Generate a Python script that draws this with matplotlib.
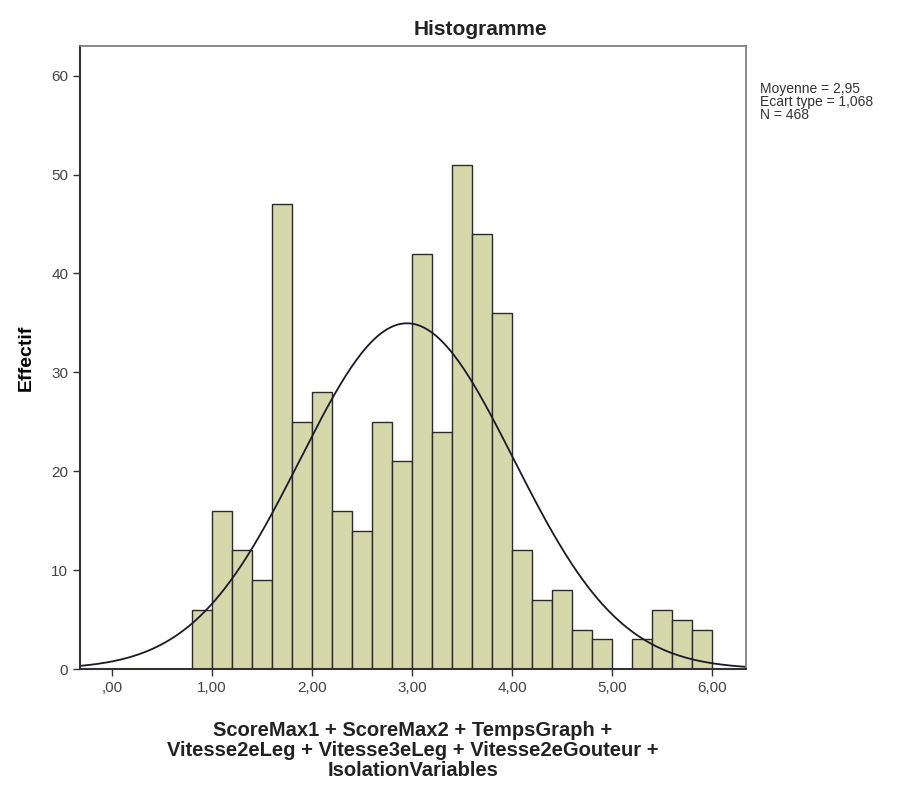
import numpy as np
import matplotlib.pyplot as plt

plt.rcParams['font.family'] = ['Liberation Sans', 'DejaVu Sans']

# histogram data (bins of width 0.2 starting at 0.8)
bin_edges = [0.8, 1.0, 1.2, 1.4, 1.6, 1.8, 2.0, 2.2, 2.4, 2.6, 2.8, 3.0, 3.2, 3.4,
             3.6, 3.8, 4.0, 4.2, 4.4, 4.6, 4.8, 5.0, 5.2, 5.4, 5.6, 5.8, 6.0]
counts = [6, 16, 12, 9, 47, 25, 28, 16, 14, 25, 21, 42, 24, 51,
          44, 36, 12, 7, 8, 4, 3, 0, 3, 6, 5, 4]

mean = 2.95
std = 1.068
n = 468

xticks = [0, 1, 2, 3, 4, 5, 6]
xticklabels = [',00', '1,00', '2,00', '3,00', '4,00', '5,00', '6,00']
yticks = [0, 10, 20, 30, 40, 50, 60]

fig = plt.figure(figsize=(9.03, 7.89), dpi=100)
ax = fig.add_axes([0.0886, 0.152, 0.7375, 0.7897])

lefts = bin_edges[:-1]
widths = np.diff(bin_edges)
ax.bar(lefts, counts, width=widths, align='edge', color='#d5d8aa',
       edgecolor='#2b2b2b', linewidth=1.0)

# normal curve from the stated mean / std
xs = np.linspace(-0.32, 6.34, 400)
bw = bin_edges[1] - bin_edges[0]
ys = n * bw / (std * np.sqrt(2 * np.pi)) * np.exp(-0.5 * ((xs - mean) / std) ** 2)
ax.plot(xs, ys, color='#1a1a2a', linewidth=1.3)

ax.set_xlim(-0.32, 6.34)
ax.set_ylim(0, 63)
ax.set_xticks(xticks)
ax.set_xticklabels(xticklabels)
ax.set_yticks(yticks)
ax.tick_params(axis='both', direction='out', length=5, width=1, labelsize=11,
               colors='#333333', labelcolor='#444444')

for side in ['left', 'bottom']:
    ax.spines[side].set_color('#333333')
    ax.spines[side].set_linewidth(1.5)
for side in ['top', 'right']:
    ax.spines[side].set_color('#777777')
    ax.spines[side].set_linewidth(1.2)

ax.set_ylabel('Effectif', fontsize=14, fontweight='bold', labelpad=12)
ax.set_xlabel('ScoreMax1 + ScoreMax2 + TempsGraph +\n'
              'Vitesse2eLeg + Vitesse3eLeg + Vitesse2eGouteur +\n'
              'IsolationVariables', fontsize=14.5, fontweight='bold',
              linespacing=1.05, labelpad=19, color='#222222')

fig.text(0.532, 0.963, 'Histogramme', ha='center', va='center',
         fontsize=15, fontweight='bold', color='#222222')
fig.text(0.842, 0.871, 'Moyenne = 2,95\nEcart type = 1,068\nN = 468',
         ha='left', va='center', fontsize=10, linespacing=0.9, color='#333333')

fig.savefig('out.png', dpi=100)
